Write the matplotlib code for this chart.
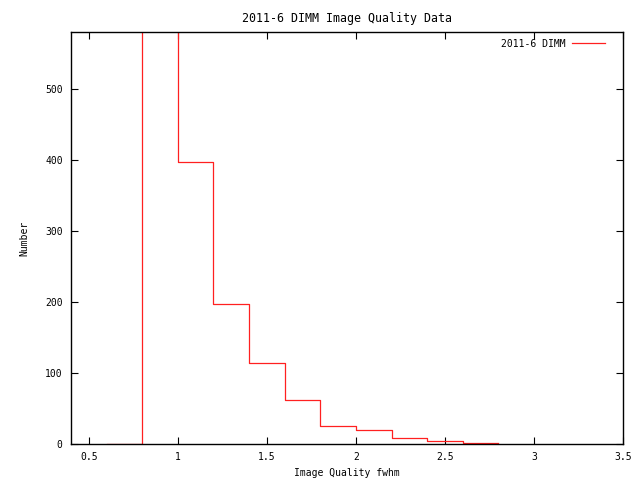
import matplotlib
matplotlib.use("Agg")
import matplotlib.pyplot as plt

# histogram bin starts (fwhm) and counts, drawn as steps
bin_x = [0.6, 0.8, 1.0, 1.2, 1.4, 1.6, 1.8, 2.0, 2.2, 2.4, 2.6, 2.8]
counts = [0, 760, 397, 197, 114, 62, 25, 20, 8, 4, 1, 1]
x_ticks = [0.5, 1, 1.5, 2, 2.5, 3, 3.5]
x_tick_labels = ["0.5", "1", "1.5", "2", "2.5", "3", "3.5"]
y_ticks = [0, 100, 200, 300, 400, 500]

plt.rcParams['font.family'] = 'DejaVu Sans Mono'
plt.rcParams['font.size'] = 7

fig = plt.figure(figsize=(6.4, 4.8), dpi=100)
ax = fig.add_axes([71 / 640, 1 - 444 / 480, (623 - 71) / 640, (444 - 32) / 480])

ax.step(bin_x, counts, where='post', color='#ff2020', lw=0.9, label='2011-6 DIMM')

ax.set_xlim(0.4, 3.5)
ax.set_ylim(0, 580)
ax.set_xticks(x_ticks)
ax.set_xticklabels(x_tick_labels)
ax.set_yticks(y_ticks)
ax.tick_params(direction='in', length=5, width=0.8, top=True, right=True, pad=6)
for s in ax.spines.values():
    s.set_linewidth(1.0)

ax.set_title('2011-6 DIMM Image Quality Data', pad=7)
ax.set_xlabel('Image Quality fwhm', labelpad=4)
ax.set_ylabel('Number', labelpad=11)

ax.legend(loc='upper right', bbox_to_anchor=(1 - 11 / 552, 1), frameon=False,
          markerfirst=False, handlelength=3.4, borderaxespad=0.3, handletextpad=0.7)

plt.savefig("out.png")
